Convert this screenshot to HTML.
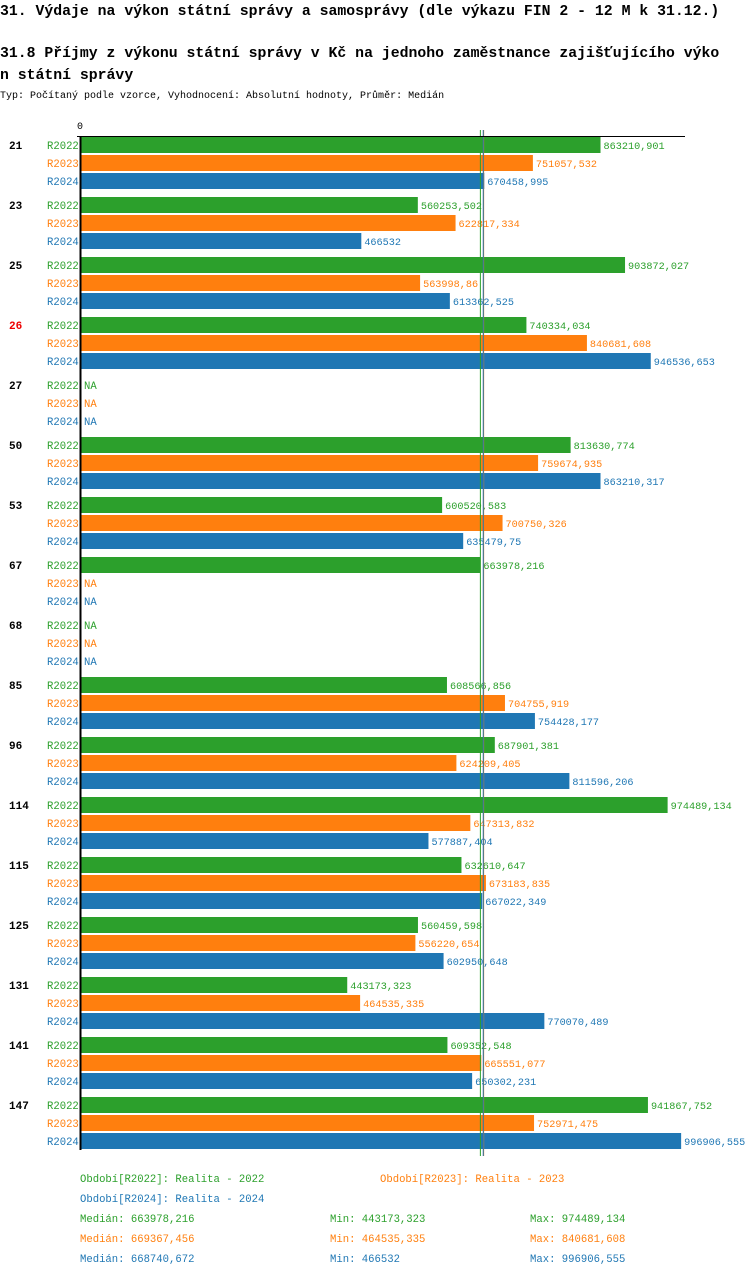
<!DOCTYPE html>
<html><head><meta charset="utf-8">
<style>
body{margin:0;background:#fff;width:750px;height:1276px;overflow:hidden;font-family:"Liberation Mono",monospace;}
svg text{font-family:"Liberation Mono",monospace;}
</style></head>
<body>
<svg id="chart" width="750" height="1276" xmlns="http://www.w3.org/2000/svg">
<text x="0" y="15" font-size="14.8" font-weight="bold">31. Výdaje na výkon státní správy a samosprávy (dle výkazu FIN 2 - 12 M k 31.12.)</text>
<text x="0" y="57" font-size="14.8" font-weight="bold">31.8 Příjmy z výkonu státní správy v Kč na jednoho zaměstnance zajišťujícího výko</text>
<text x="0" y="79" font-size="14.8" font-weight="bold">n státní správy</text>
<text x="0" y="98" font-size="10">Typ: Počítaný podle vzorce, Vyhodnocení: Absolutní hodnoty, Průměr: Medián</text>
<text x="77" y="129" font-size="10">0</text>
<g id="bars"></g>
<line x1="77" y1="136.5" x2="685" y2="136.5" stroke="#000"/>
<line x1="80.5" y1="136" x2="80.5" y2="1150" stroke="#000" stroke-width="2"/>
<g id="legend"></g>
</svg>
<script>
const categories=["21","23","25","26","27","50","53","67","68","85","96","114","115","125","131","141","147"];
const highlighted=["26"];
const seriesNames=["R2022","R2023","R2024"];
const r2022=[863210.901,560253.502,903872.027,740334.034,null,813630.774,600520.583,663978.216,null,608566.856,687901.381,974489.134,632610.647,560459.598,443173.323,609352.548,941867.752];
const r2023=[751057.532,622817.334,563998.86,840681.608,null,759674.935,700750.326,null,null,704755.919,624209.405,647313.832,673183.835,556220.654,464535.335,665551.077,752971.475];
const r2024=[670458.995,466532,613362.525,946536.653,null,863210.317,635479.75,null,null,754428.177,811596.206,577887.404,667022.349,602950.648,770070.489,650302.231,996906.555];
const medians=[663978.216,669367.456,668740.672];
const mins=[443173.323,464535.335,466532];
const maxs=[974489.134,840681.608,996906.555];
const colors=["#2ca02c","#ff7f0e","#1f77b4"];
const series=[r2022,r2023,r2024];
const NS="http://www.w3.org/2000/svg";
const x=v=>80+v*0.000603;
const yTop=(i,s)=>137+i*60+s*18;
const fmt=v=>String(v).replace('.',',');
const g=document.getElementById('bars');
function el(t,a,txt){const e=document.createElementNS(NS,t);for(const k in a)e.setAttribute(k,a[k]);if(txt!==undefined)e.textContent=txt;return e;}
categories.forEach((c,i)=>{
  const t=el('text',{x:9,y:yTop(i,0)+12,'font-size':11,'font-weight':'bold',fill:highlighted.includes(c)?'#e00':'#000'},c);
  
  
  g.appendChild(t);
  series.forEach((arr,s)=>{
    const y=yTop(i,s);
    const l=el('text',{x:47,y:y+12,'font-size':10.6,fill:colors[s]},seriesNames[s]);
    
    
    g.appendChild(l);
    const v=arr[i];
    if(v===null){
      const n=el('text',{x:84,y:y+12,'font-size':10.6,fill:colors[s]},'NA');
      
      
      g.appendChild(n);return;
    }
    const r=el('rect',{x:81,y:y,width:x(v)-81,height:16,fill:colors[s]});
    
    
    g.appendChild(r);
    const vt=el('text',{x:x(v)+3,y:y+12,'font-size':10.2,fill:colors[s]},fmt(v));
    
    
    g.appendChild(vt);
  });
});
medians.forEach((m,s)=>{
  const ln=el('line',{x1:x(m),y1:130,x2:x(m),y2:1156,stroke:colors[s],'stroke-width':1});
  
  
  g.appendChild(ln);
});
const lg=document.getElementById('legend');
const legendPos=[[80,1182],[380,1182],[80,1202]];
seriesNames.forEach((n,s)=>{
  const t=el('text',{x:legendPos[s][0],y:legendPos[s][1],'font-size':10.6,fill:colors[s]},'Období['+n+']: Realita - '+n.slice(1));
  
  
  lg.appendChild(t);
  const y=1222+s*20;
  const a=el('text',{x:80,y:y,'font-size':10.6,fill:colors[s]},'Medián: '+fmt(medians[s]));
  
  
  lg.appendChild(a);
  const b=el('text',{x:330,y:y,'font-size':10.6,fill:colors[s]},'Min: '+fmt(mins[s]));
  
  
  lg.appendChild(b);
  const c=el('text',{x:530,y:y,'font-size':10.6,fill:colors[s]},'Max: '+fmt(maxs[s]));
  
  
  lg.appendChild(c);
});
</script>
</body></html>
